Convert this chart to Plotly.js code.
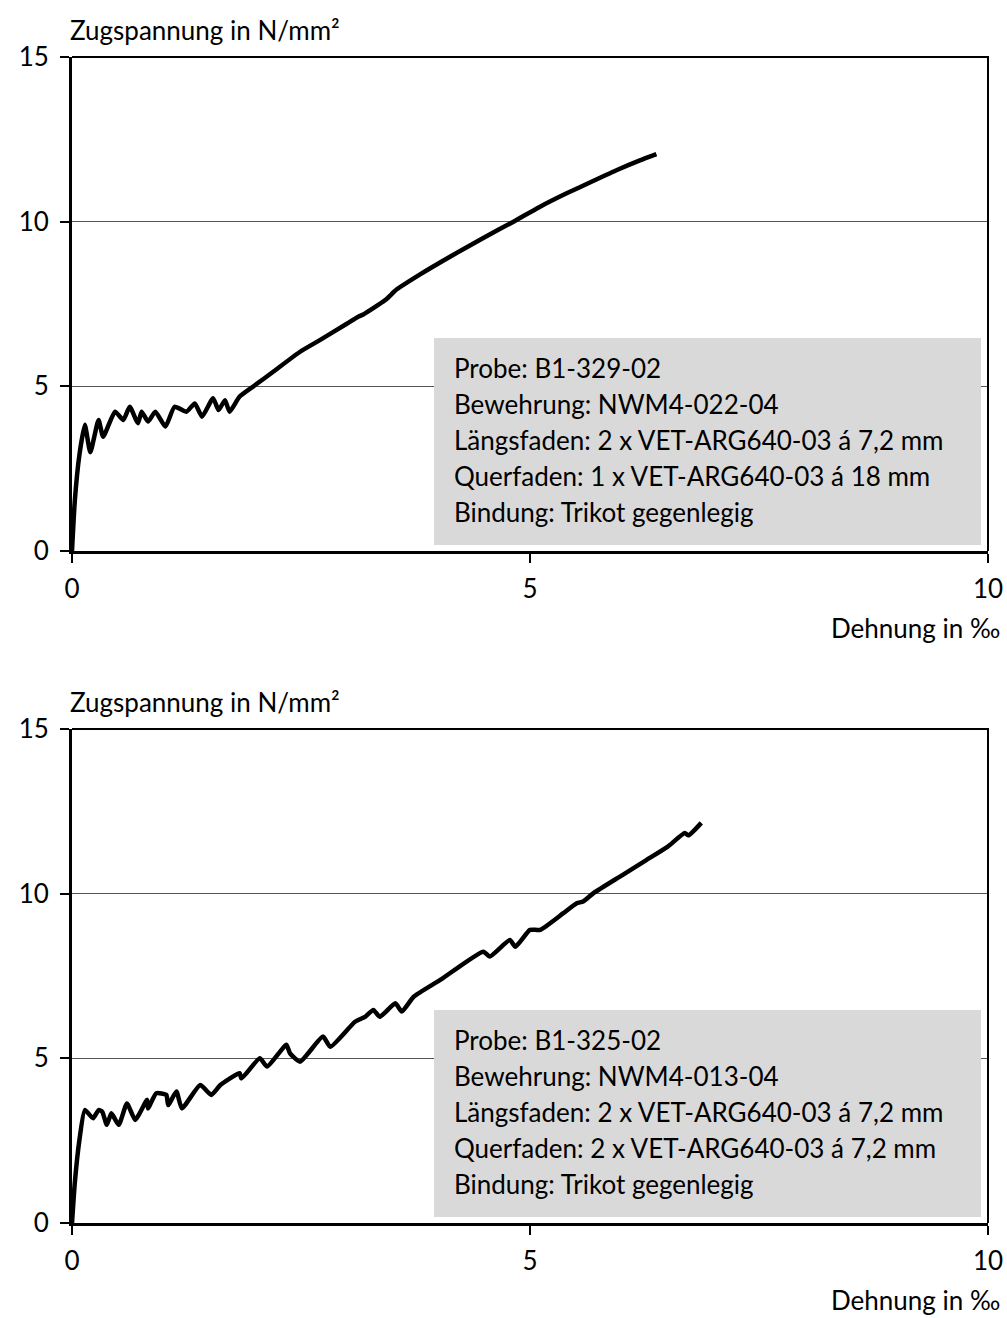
<!DOCTYPE html>
<html><head><meta charset="utf-8">
<script src="https://cdn.plot.ly/plotly-3.0.1.min.js"></script>
<style>html,body{margin:0;padding:0;background:#fff;}#chart{width:1007px;height:1318px;}</style>
</head><body><div id="chart"></div>
<script>
// Top specimen B1-329-02
const strainTop = [0, 0.03, 0.08, 0.14, 0.20, 0.29, 0.34, 0.47, 0.56, 0.63, 0.72, 0.76, 0.83, 0.91, 1.02, 1.12, 1.25, 1.34, 1.42, 1.54, 1.60, 1.67, 1.72, 1.83, 2.00, 2.20, 2.49, 2.71, 3.00, 3.13, 3.18, 3.42, 3.54, 3.80, 4.16, 4.50, 4.82, 5.10, 5.40, 5.70, 5.95, 6.20, 6.38];
const stressTop = [0, 1.5, 2.9, 3.83, 3.0, 3.98, 3.47, 4.23, 3.98, 4.38, 3.88, 4.23, 3.93, 4.23, 3.78, 4.38, 4.23, 4.48, 4.08, 4.64, 4.28, 4.58, 4.23, 4.69, 5.04, 5.45, 6.05, 6.41, 6.90, 7.12, 7.18, 7.62, 7.93, 8.40, 8.99, 9.52, 10.0, 10.44, 10.86, 11.25, 11.57, 11.86, 12.05];
// Bottom specimen B1-325-02
const strainBot = [0, 0.03, 0.08, 0.14, 0.23, 0.29, 0.33, 0.38, 0.43, 0.51, 0.60, 0.69, 0.82, 0.83, 0.92, 1.03, 1.05, 1.14, 1.20, 1.40, 1.52, 1.62, 1.83, 1.85, 2.05, 2.13, 2.34, 2.38, 2.49, 2.74, 2.82, 3.09, 3.20, 3.29, 3.36, 3.53, 3.60, 3.73, 4.02, 4.49, 4.56, 4.78, 4.84, 5.00, 5.11, 5.36, 5.51, 5.58, 5.69, 6.00, 6.27, 6.50, 6.69, 6.73, 6.87];
const stressBot = [0, 1.2, 2.5, 3.43, 3.18, 3.43, 3.38, 2.98, 3.33, 2.98, 3.63, 3.13, 3.74, 3.48, 3.94, 3.89, 3.58, 3.99, 3.48, 4.19, 3.89, 4.19, 4.55, 4.39, 5.0, 4.75, 5.41, 5.15, 4.90, 5.66, 5.35, 6.11, 6.26, 6.47, 6.26, 6.67, 6.42, 6.87, 7.38, 8.24, 8.09, 8.59, 8.39, 8.90, 8.90, 9.40, 9.71, 9.76, 10.01, 10.55, 11.02, 11.42, 11.84, 11.77, 12.15];

const yTicks = [0, 5, 10, 15];
const xTicks = [0, 5, 10];
const yTitle = "Zugspannung in N/mm²";
const xTitle = "Dehnung in ‰";
const infoTop = ["Probe: B1-329-02", "Bewehrung: NWM4-022-04", "Längsfaden: 2 x VET-ARG640-03 á 7,2 mm", "Querfaden: 1 x VET-ARG640-03 á 18 mm", "Bindung: Trikot gegenlegig"];
const infoBot = ["Probe: B1-325-02", "Bewehrung: NWM4-013-04", "Längsfaden: 2 x VET-ARG640-03 á 7,2 mm", "Querfaden: 2 x VET-ARG640-03 á 7,2 mm", "Bindung: Trikot gegenlegig"];

const W = 1007, H = 1318;
const FONT = "Lato, 'Open Sans', sans-serif";
const FS = 26;
const px = x => x / W;
const py = y => 1 - y / H;

const line = {color: '#000', width: 4.5, shape: 'spline', smoothing: 0.5};
const traces = [
  {x: strainTop, y: stressTop, type: 'scatter', mode: 'lines', line: line, xaxis: 'x', yaxis: 'y', hoverinfo: 'skip'},
  {x: strainBot, y: stressBot, type: 'scatter', mode: 'lines', line: line, xaxis: 'x2', yaxis: 'y2', hoverinfo: 'skip'}
];

function xa(anchor) {
  return {domain: [px(72), px(988)], range: [0, 10], tickvals: xTicks, ticktext: xTicks.map(String),
    showgrid: false, zeroline: false, showline: true, linecolor: '#000', linewidth: 3,
    ticks: 'outside', ticklen: 9, tickwidth: 2, tickcolor: '#000', anchor: anchor, ticklabelstandoff: 4,
    tickfont: {family: FONT, size: FS, color: '#000'}, fixedrange: true};
}
function ya(anchor, top, bot) {
  return {domain: [py(bot), py(top)], range: [0, 15], tickvals: yTicks, ticktext: yTicks.map(String),
    showgrid: true, gridcolor: '#555', gridwidth: 1, zeroline: false, showline: true, linecolor: '#000', linewidth: 3,
    ticks: 'outside', ticklen: 9, tickwidth: 2, tickcolor: '#000', anchor: anchor, ticklabelstandoff: 6,
    tickfont: {family: FONT, size: FS, color: '#000'}, fixedrange: true};
}

const annotations = [];
const shapes = [];
function panel(top, bot, info) {
  annotations.push({xref: 'paper', yref: 'paper', x: px(68), y: py(top - 27), xanchor: 'left', yanchor: 'middle',
    text: yTitle, showarrow: false, font: {family: FONT, size: FS, color: '#000'}});
  annotations.push({xref: 'paper', yref: 'paper', x: px(1002), y: py(bot + 77), xanchor: 'right', yanchor: 'middle',
    text: xTitle, showarrow: false, font: {family: FONT, size: FS, color: '#000'}});
  // top and right frame
  shapes.push({type: 'line', xref: 'paper', yref: 'paper', x0: px(72), x1: px(989), y0: py(top), y1: py(top), line: {color: '#000', width: 2}});
  shapes.push({type: 'line', xref: 'paper', yref: 'paper', x0: px(988), x1: px(988), y0: py(top), y1: py(bot), line: {color: '#000', width: 2}});
  // info box
  shapes.push({type: 'rect', xref: 'paper', yref: 'paper', x0: px(434), x1: px(981), y0: py(bot - 6), y1: py(bot - 213),
    fillcolor: '#d9d9d9', line: {width: 0}, layer: 'above'});
  info.forEach((t, i) => {
    annotations.push({xref: 'paper', yref: 'paper', x: px(452), y: py(bot - 183 + i * 36), xanchor: 'left', yanchor: 'middle',
      text: t, showarrow: false, font: {family: FONT, size: FS, color: '#000'}});
  });
}
panel(57, 551, infoTop);
panel(729, 1223, infoBot);

const layout = {
  width: W, height: H, margin: {l: 0, r: 0, t: 0, b: 0}, showlegend: false,
  paper_bgcolor: '#fff', plot_bgcolor: '#fff',
  xaxis: xa('y'), yaxis: ya('x', 57, 551),
  xaxis2: xa('y2'), yaxis2: ya('x2', 729, 1223),
  annotations: annotations, shapes: shapes
};
Plotly.newPlot('chart', traces, layout, {displayModeBar: false, staticPlot: true});
</script></body></html>
